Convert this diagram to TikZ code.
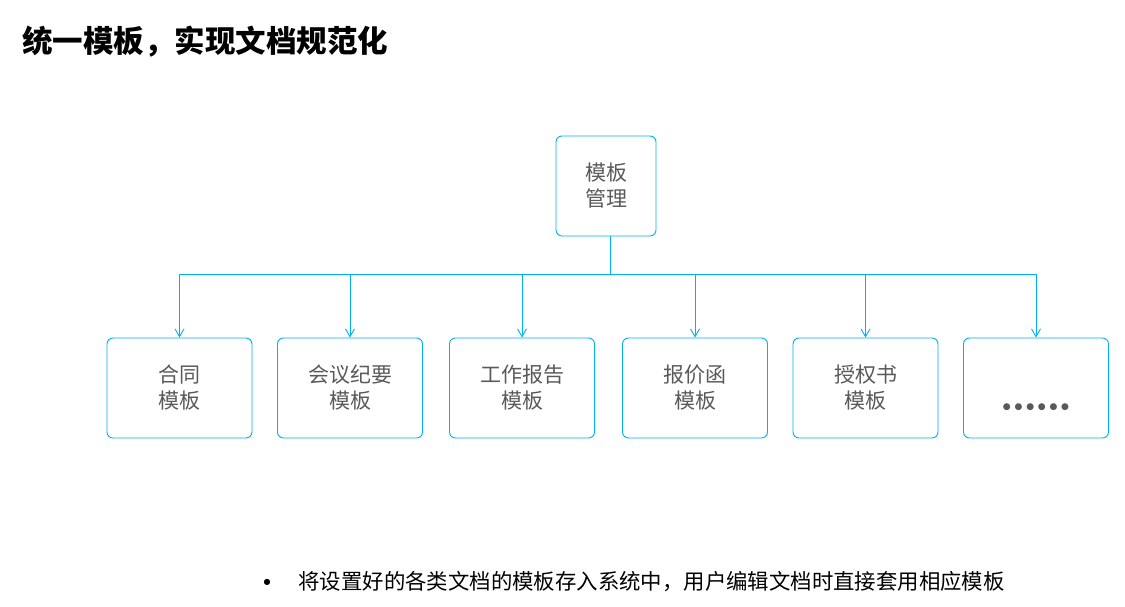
\documentclass[tikz,border=0pt]{standalone}
\usepackage{fontspec}
\newfontfamily\cjk{Noto Sans CJK SC}
\newfontfamily\sym{DejaVu Sans}
\usetikzlibrary{arrows.meta,positioning}
\definecolor{boxblue}{HTML}{00B0F0}
\definecolor{txtgray}{HTML}{595959}
\newcommand{\bdot}{{\sym\fontsize{9}{9}\selectfont ●}}

\begin{document}
\begin{tikzpicture}[x=1pt,y=-1pt,-{Straight Barb[angle=60:9pt,line width=0.9pt]},
                boxblue,line width=0.9pt,
                tmpl/.style={draw=boxblue,rounded corners=6pt,minimum width=145pt,
                    minimum height=100pt,align=center,text=txtgray,
                    font=\cjk\fontsize{21}{26}\selectfont,inner sep=0pt}]
            \useasboundingbox (0,0) rectangle (1125,607);
            \node [anchor=west,text=black,font=\cjk\bfseries\fontsize{30.5}{36}\selectfont,inner sep=0pt]
                (title) at (22,42) {统一模板，实现文档规范化};
            \node [tmpl,minimum width=100pt] (root) at (606,186) {模板\\管理};
            \node [tmpl] (hetong)  at (179.5,388) {合同\\模板};
            \node [tmpl] (huiyi)   at (350,388)   {会议纪要\\模板};
            \node [tmpl] (gongzuo) at (522,388)   {工作报告\\模板};
            \node [tmpl] (baojia)  at (695,388)   {报价函\\模板};
            \node [tmpl] (shouquan) at (865.5,388) {授权书\\模板};
            \node [tmpl] (more)    at (1036,388)
                {\strut\\\bdot\hspace{3.8pt}\bdot\hspace{3.8pt}\bdot\hspace{3.8pt}\bdot\hspace{3.8pt}\bdot\hspace{3.8pt}\bdot};
            \coordinate (split) at (610,274);
            \draw [-] (root.south -| split) -- (split);
            \draw [-] (hetong.north |- split) -- (more.north |- split);
            \foreach \t in {hetong,huiyi,gongzuo,baojia,shouquan,more}
                \draw (\t.north |- split) -- (\t.north);
            \node [text=black,inner sep=0pt] (dot) at (267,582) {\sym\fontsize{8}{8}\selectfont ●};
            \node [anchor=west,text=black,font=\cjk\fontsize{21.4}{24}\selectfont,inner sep=0pt]
                (note) at (298,582) {将设置好的各类文档的模板存入系统中，用户编辑文档时直接套用相应模板};
        \end{tikzpicture}
\end{document}
